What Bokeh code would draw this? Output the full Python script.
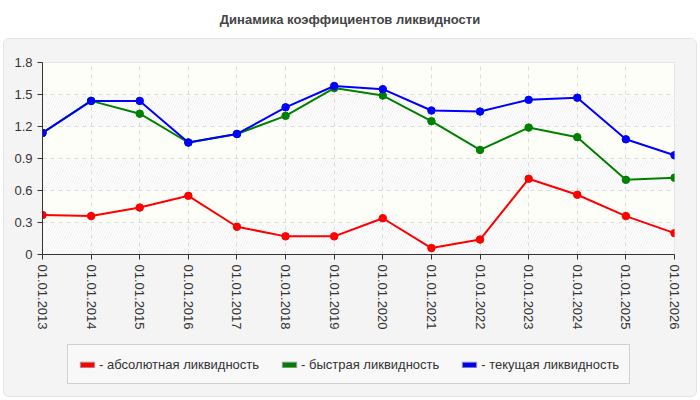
from bokeh.plotting import figure
from bokeh.models import Range1d, FixedTicker, Legend, LegendItem, Div, ColumnDataSource
from bokeh.layouts import column
from bokeh.embed import file_html
from bokeh.resources import INLINE

title_text = "Динамика коэффициентов ликвидности"

dates = ["01.01.2013", "01.01.2014", "01.01.2015", "01.01.2016", "01.01.2017",
         "01.01.2018", "01.01.2019", "01.01.2020", "01.01.2021", "01.01.2022",
         "01.01.2023", "01.01.2024", "01.01.2025", "01.01.2026"]

absolute_liq = [0.37, 0.36, 0.44, 0.55, 0.26, 0.17, 0.17, 0.34, 0.06, 0.14, 0.71, 0.56, 0.36, 0.20]
quick_liq = [1.14, 1.44, 1.32, 1.05, 1.13, 1.30, 1.56, 1.49, 1.25, 0.98, 1.19, 1.10, 0.70, 0.72]
current_liq = [1.14, 1.44, 1.44, 1.05, 1.13, 1.38, 1.58, 1.55, 1.35, 1.34, 1.45, 1.47, 1.08, 0.93]

y_ticks = [0, 0.3, 0.6, 0.9, 1.2, 1.5, 1.8]
y_tick_labels = ["0", "0.3", "0.6", "0.9", "1.2", "1.5", "1.8"]

series_names = ["- абсолютная ликвидность", "- быстрая ликвидность", "- текущая ликвидность"]
series_colors = ["#ff0000", "#008000", "#0000ff"]
series_values = [absolute_liq, quick_liq, current_liq]

FONT = "Liberation Sans"
PANEL = "#f4f4f4"

x_idx = list(range(len(dates)))

# ---------------- main chart ----------------
p = figure(width=692, height=301,
           x_range=Range1d(x_idx[0], x_idx[-1]),
           y_range=Range1d(y_ticks[0], y_ticks[-1]),
           output_backend="svg", toolbar_location=None,
           min_border_left=38, min_border_right=22,
           min_border_top=23, min_border_bottom=86,
           border_fill_color=PANEL, background_fill_color="#ffffff",
           outline_line_color="#dddddd")

lows = y_ticks[:-1]
highs = y_ticks[1:]
hatch_src = ColumnDataSource(dict(bottom=lows[0::2], top=highs[0::2]))
cream_src = ColumnDataSource(dict(bottom=lows[1::2], top=highs[1::2]))
p.quad(left=x_idx[0], right=x_idx[-1], bottom="bottom", top="top", source=hatch_src,
       fill_color="#ffffff", hatch_pattern="/", hatch_color="#f0f0f0",
       hatch_scale=5, hatch_weight=1, line_color=None, level="image")
p.quad(left=x_idx[0], right=x_idx[-1], bottom="bottom", top="top", source=cream_src,
       fill_color="#fefef9", line_color=None, level="image")

for color, vals in zip(series_colors, series_values):
    p.line(x_idx, vals, line_color=color, line_width=2)
    p.scatter(x_idx, vals, size=7.5, fill_color=color, line_color=color)

xt = FixedTicker(ticks=x_idx)
p.xaxis.ticker = xt
p.xgrid.ticker = xt
p.xaxis.major_label_overrides = {i: d for i, d in zip(x_idx, dates)}
p.xaxis.major_label_orientation = "vertical"

yt = FixedTicker(ticks=y_ticks)
p.yaxis.ticker = yt
p.ygrid.ticker = yt
p.yaxis.major_label_overrides = {t: l for t, l in zip(y_ticks, y_tick_labels)}

for ax in (p.xaxis, p.yaxis):
    ax.axis_line_color = "#333333"
    ax.major_tick_line_color = "#333333"
    ax.minor_tick_line_color = None
    ax.major_tick_in = 0
    ax.major_tick_out = 5
    ax.major_label_standoff = 5
    ax.major_label_text_font = FONT
    ax.major_label_text_font_size = "13px"
    ax.major_label_text_color = "#333333"

p.grid.grid_line_color = "#dddddd"
p.grid.grid_line_dash = "4 4"

# ---------------- legend strip ----------------
lp = figure(width=692, height=56, x_range=Range1d(0, 1), y_range=Range1d(0, 1),
            output_backend="svg", toolbar_location=None,
            x_axis_location=None, y_axis_location=None,
            min_border=0, min_border_left=0, min_border_right=0,
            min_border_top=0, min_border_bottom=0, outline_line_color=None,
            background_fill_color=PANEL, border_fill_color=PANEL)
lp.grid.visible = False

legend_items = []
for name, color in zip(series_names, series_colors):
    # swatch-only renderer, its single box lies outside the visible range
    dummy = lp.quad(left=[2], right=[3], top=[3], bottom=[2], fill_color=color,
                    line_color="#999999")
    legend_items.append(LegendItem(label=name, renderers=[dummy]))

legend = Legend(items=legend_items, orientation="horizontal", location=(25, 12),
                glyph_width=18, glyph_height=7, label_standoff=3, spacing=21,
                padding=10, margin=0, label_height=18,
                border_line_color="#aaaaaa", background_fill_color="#f8f8f8",
                label_text_font=FONT, label_text_font_size="13px",
                label_text_color="#333333")
lp.add_layout(legend)

panel = column(p, lp, spacing=0, margin=(0, 0, 0, 3),
               styles={"border": "1px solid #e4e4e4", "border-radius": "6px",
                       "overflow": "hidden", "background-color": PANEL})

title = Div(text=title_text, width=700, height=38, margin=0,
            styles={"text-align": "center", "font-weight": "bold",
                    "font-size": "13px", "color": "#444444",
                    "font-family": FONT, "line-height": "40px",
                    "width": "700px"})

layout = column(title, panel, spacing=0)

open("out.html", "w").write(file_html(layout, INLINE))
